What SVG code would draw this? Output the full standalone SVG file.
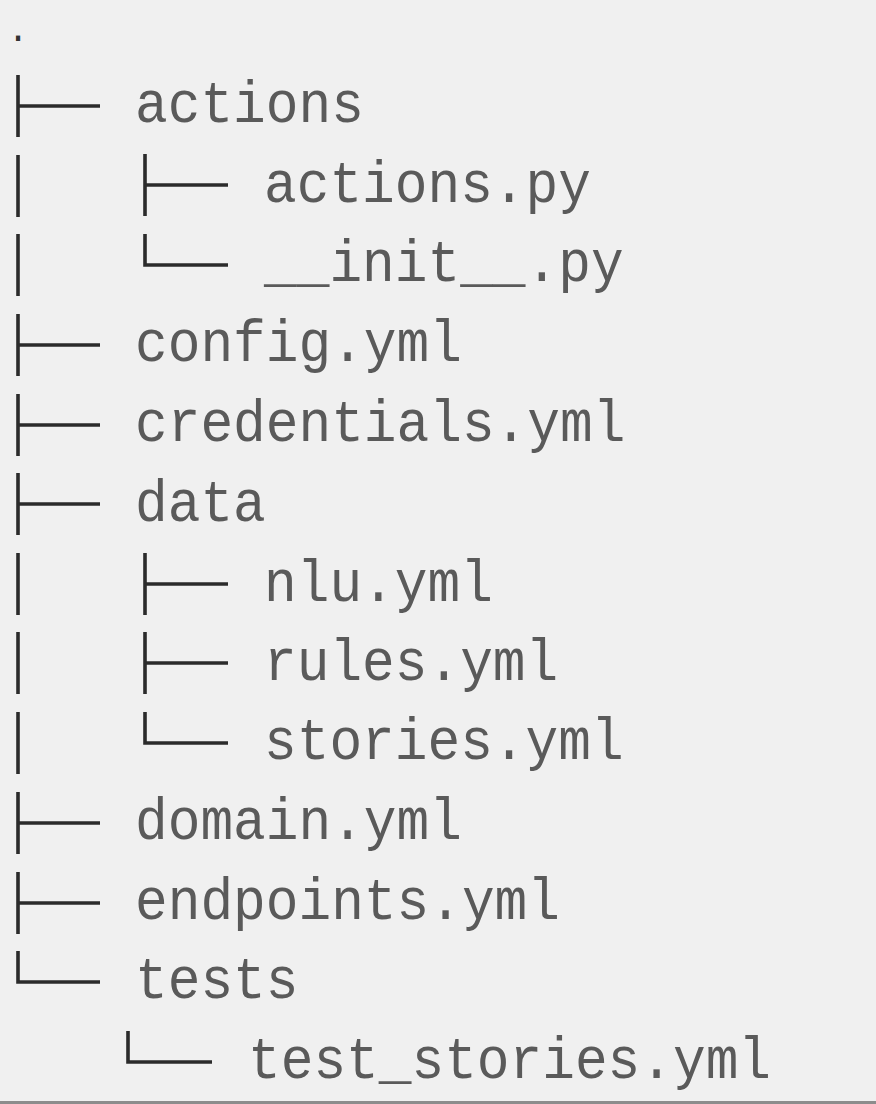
<svg xmlns="http://www.w3.org/2000/svg" width="876" height="1104" viewBox="0 0 876 1104">
  <style>
    .bg { fill: #f0f0f0; }
    .name { font-family: "Liberation Mono", "Courier New", monospace; font-size: 54.5px; fill: #5a5a5a; }
    .dot { font-family: "Liberation Mono", "Courier New", monospace; font-size: 36px; fill: #333333; }
    .branch { stroke: #2b2b2b; stroke-width: 3.6; fill: none; stroke-linecap: butt; }
  </style>

  <rect class="bg" x="0" y="0" width="876" height="1104"/>
  <line x1="0" y1="1102.5" x2="876" y2="1102.5" stroke="#8c8c8c" stroke-width="3"/>

  <!-- tree branches: trunk at x=18, second level at x=145 -->
  <g id="connectors" class="branch">
    <!-- top level -->
    <path d="M18 75 V137 M18 106 H100"/>
    <path d="M18 155 V217"/>
    <path d="M18 234 V296"/>
    <path d="M18 314 V376 M18 345 H100"/>
    <path d="M18 394 V456 M18 425 H100"/>
    <path d="M18 473 V535 M18 504 H100"/>
    <path d="M18 553 V615"/>
    <path d="M18 632 V694"/>
    <path d="M18 712 V774"/>
    <path d="M18 792 V854 M18 823 H100"/>
    <path d="M18 872 V934 M18 903 H100"/>
    <path d="M18 951 V982 H100"/>
    <!-- actions/ -->
    <path d="M145 154 V216 M145 185 H228"/>
    <path d="M145 234 V265 H228"/>
    <!-- data/ -->
    <path d="M145 553 V615 M145 584 H228"/>
    <path d="M145 632 V694 M145 663 H228"/>
    <path d="M145 712 V743 H228"/>
    <!-- tests/ -->
    <path d="M128 1031 V1062 H212"/>
  </g>

  <g id="root"><text class="dot" x="18" y="41" text-anchor="middle">.</text></g>

  <g id="actions" transform="translate(135 122) scale(1 1.1)"><text class="name">actions</text></g>
  <g id="actions-py" transform="translate(264 201.5) scale(1 1.1)"><text class="name">actions.py</text></g>
  <g id="init-py" transform="translate(264 281) scale(1 1.1)"><text class="name">__init__.py</text></g>
  <g id="config-yml" transform="translate(135 361) scale(1 1.1)"><text class="name">config.yml</text></g>
  <g id="credentials-yml" transform="translate(135 441) scale(1 1.1)"><text class="name">credentials.yml</text></g>
  <g id="data" transform="translate(135 520.5) scale(1 1.1)"><text class="name">data</text></g>
  <g id="nlu-yml" transform="translate(264 600.5) scale(1 1.1)"><text class="name">nlu.yml</text></g>
  <g id="rules-yml" transform="translate(264 679.5) scale(1 1.1)"><text class="name">rules.yml</text></g>
  <g id="stories-yml" transform="translate(264 759) scale(1 1.1)"><text class="name">stories.yml</text></g>
  <g id="domain-yml" transform="translate(135 839) scale(1 1.1)"><text class="name">domain.yml</text></g>
  <g id="endpoints-yml" transform="translate(135 919) scale(1 1.1)"><text class="name">endpoints.yml</text></g>
  <g id="tests" transform="translate(135 998) scale(1 1.1)"><text class="name">tests</text></g>
  <g id="test-stories-yml" transform="translate(248 1078) scale(1 1.1)"><text class="name">test_stories.yml</text></g>
</svg>
